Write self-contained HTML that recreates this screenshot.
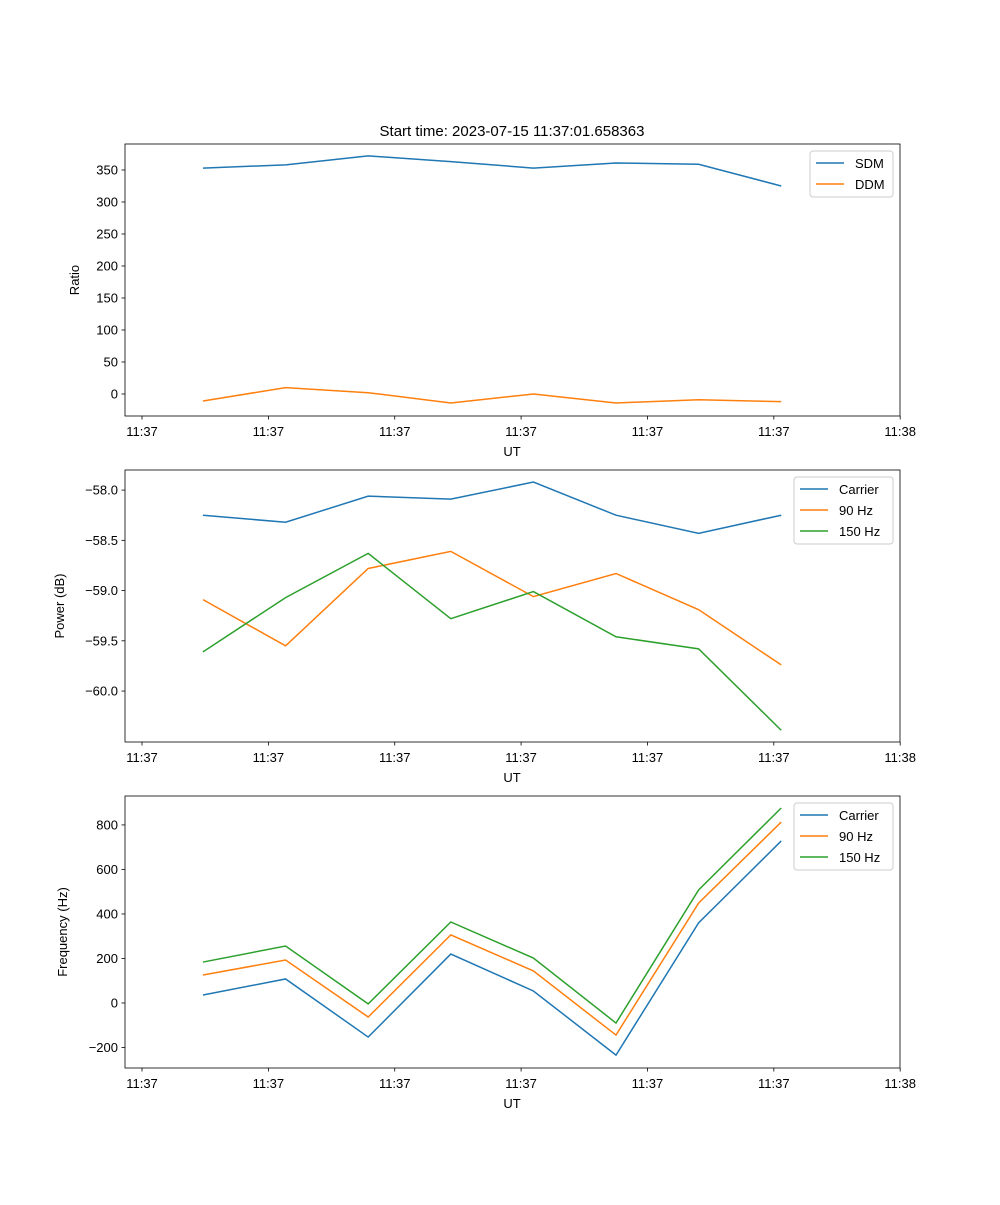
<!DOCTYPE html>
<html><head><meta charset="utf-8"><style>body{margin:0;background:#fff}svg{font-family:"Liberation Sans","DejaVu Sans",sans-serif}</style></head>
<body>
<svg id="fig" width="1000" height="1200" xmlns="http://www.w3.org/2000/svg">
<rect width="1000" height="1200" fill="#fff"/>
<text x="512" y="136" font-size="15" text-anchor="middle">Start time: 2023-07-15 11:37:01.658363</text>
</svg>
<script>
const xTickLabels = ["11:37","11:37","11:37","11:37","11:37","11:37","11:38"];
const sdm = [353,358,372,363,353,361,359,325];
const ddm = [-11,10,2,-14,0,-14,-9,-12];
const pCarrier = [-58.25,-58.32,-58.06,-58.09,-57.92,-58.25,-58.43,-58.25];
const p90 = [-59.09,-59.55,-58.78,-58.61,-59.06,-58.83,-59.19,-59.74];
const p150 = [-59.61,-59.07,-58.63,-59.28,-59.01,-59.46,-59.58,-60.39];
const fCarrier = [36,108,-153,220,54,-234,360,728];
const f90 = [126,193,-63,306,144,-144,449,813];
const f150 = [184,256,-4,364,202,-90,508,876];
const ticks1 = [0,50,100,150,200,250,300,350];
const ticks2 = [-60.0,-59.5,-59.0,-58.5,-58.0];
const ticks3 = [-200,0,200,400,600,800];

const NS="http://www.w3.org/2000/svg";
const svg=document.getElementById('fig');
function mk(tag,attrs,parent){const e=document.createElementNS(NS,tag);for(const k in attrs)e.setAttribute(k,attrs[k]);(parent||svg).appendChild(e);return e;}
const X0=125,X1=900,I0=-0.944,I1=8.438;
function xs(i){return X0+(i-I0)/(I1-I0)*(X1-X0);}
const tickIdx0=-0.738,tickStep=1.5297;
const colors=["#1f77b4","#ff7f0e","#2ca02c"];

function panel(top,ymin,ymax,yticks,fmt,ylabel,series,names,legW,name,lx){
  const bot=top+272;
  const ys=v=>bot-(v-ymin)/(ymax-ymin)*272;
  const g=mk('g',{});
  
  
  series.forEach((s,k)=>{
    const p=mk('polyline',{points:s.map((v,i)=>xs(i)+','+ys(v)).join(' '),fill:'none',stroke:colors[k],'stroke-width':1.5},g);
    
    
  });
  mk('rect',{x:X0,y:top,width:X1-X0,height:272,fill:'none',stroke:'#000','stroke-width':0.8},g);
  yticks.forEach(v=>{
    const y=ys(v);
    mk('line',{x1:X0-3.5,x2:X0,y1:y,y2:y,stroke:'#000','stroke-width':0.8},g);
    const t=mk('text',{x:X0-7,y:y+4.5,'font-size':13,'text-anchor':'end'},g);t.textContent=fmt(v);
    
    
  });
  xTickLabels.forEach((l,k)=>{
    const x=xs(tickIdx0+k*tickStep);
    mk('line',{x1:x,x2:x,y1:bot,y2:bot+3.5,stroke:'#000','stroke-width':0.8},g);
    const t=mk('text',{x:x,y:bot+20,'font-size':13,'text-anchor':'middle'},g);t.textContent=l;
    
    
  });
  const xl=mk('text',{x:512,y:bot+40,'font-size':13,'text-anchor':'middle'},g);xl.textContent='UT';
  
  
  const cy=top+136;
  const yl=mk('text',{x:lx,y:cy,'font-size':13,'text-anchor':'middle',transform:`rotate(-90 ${lx} ${cy})`},g);yl.textContent=ylabel;
  
  
  const lg=mk('g',{},g);
  
  
  const lx0=893-legW,ly0=top+7;
  mk('rect',{x:lx0,y:ly0,width:legW,height:names.length*21+4,fill:'#fff',stroke:'#ccc',rx:3},lg);
  names.forEach((n,k)=>{
    const yy=ly0+12+k*21;
    mk('line',{x1:lx0+6,x2:lx0+34,y1:yy,y2:yy,stroke:colors[k],'stroke-width':1.5},lg);
    const t=mk('text',{x:lx0+45,y:yy+5,'font-size':13},lg);t.textContent=n;
    
    
  });
}
panel(144,-34.4,390.6,ticks1,v=>String(v),'Ratio',[sdm,ddm],['SDM','DDM'],83,'ratio-panel',79);
panel(470,-60.507,-57.80,ticks2,v=>v.toFixed(1).replace('-','\u2212'),'Power (dB)',[pCarrier,p90,p150],['Carrier','90 Hz','150 Hz'],99,'power-panel',64);
panel(796,-292,930,ticks3,v=>String(v).replace('-','\u2212'),'Frequency (Hz)',[fCarrier,f90,f150],['Carrier','90 Hz','150 Hz'],99,'frequency-panel',67);
</script>
</body></html>
